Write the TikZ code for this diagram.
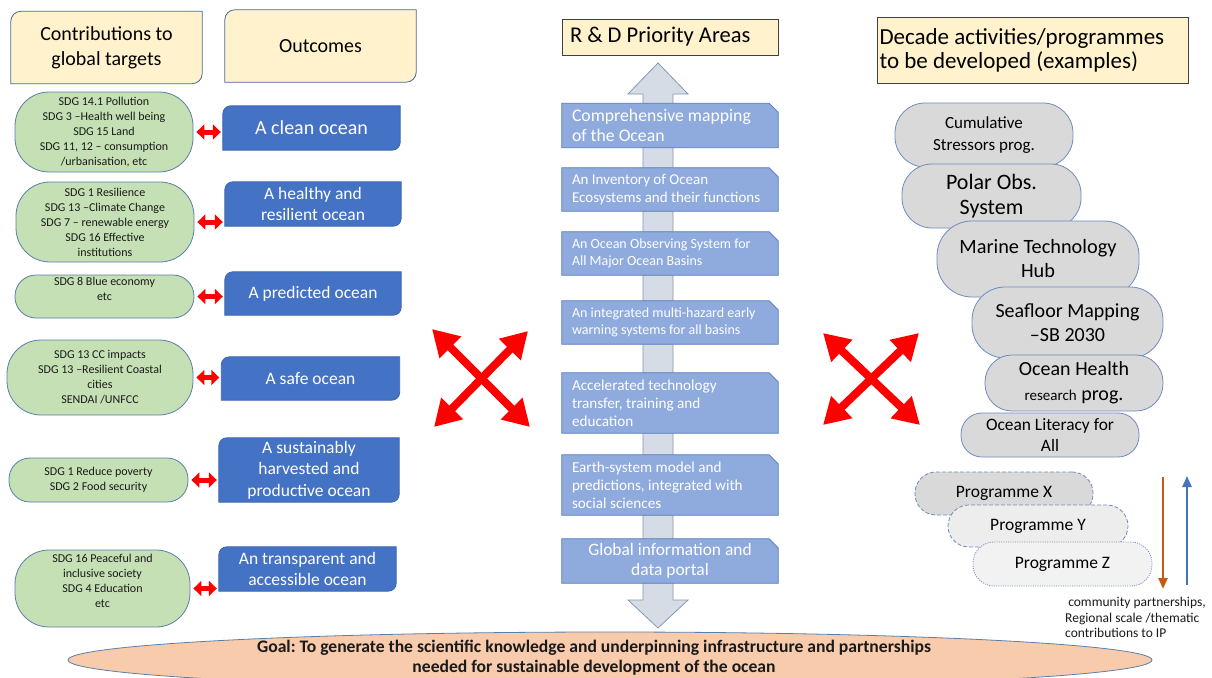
\documentclass[tikz,border=0pt]{standalone}
\usepackage{fontspec}
\setmainfont{Carlito}
\usetikzlibrary{calc,arrows.meta,backgrounds}
\definecolor{hdrfill}{HTML}{FFF2CC}
\definecolor{hdrline}{HTML}{4A6A9A}
\definecolor{bluefill}{HTML}{4472C4}
\definecolor{blueline}{HTML}{3A64B0}
\definecolor{greenfill}{HTML}{C5E0B4}
\definecolor{greenline}{HTML}{5A7FA8}
\definecolor{prifill}{HTML}{8FAADC}
\definecolor{priline}{HTML}{4F78C0}
\definecolor{arrfill}{HTML}{D6DCE5}
\definecolor{arrline}{HTML}{8497B0}
\definecolor{greyfill}{HTML}{D9D9D9}
\definecolor{greyline}{HTML}{6F8BBE}
\definecolor{goalfill}{HTML}{F8CBAD}
\definecolor{orangec}{HTML}{C55A11}
\definecolor{upblue}{HTML}{4472C4}
\definecolor{txtdark}{HTML}{1A1A1A}
\definecolor{redc}{HTML}{FF0000}
\newcommand\drawdiag[3]{\path[#2] ($(#1.north west)+(0pt,-#3)$) arc[start angle=180,end angle=90,radius=#3] -- (#1.north east) -- ($(#1.south east)+(0pt,#3)$) arc[start angle=0,end angle=-90,radius=#3] -- (#1.south west) -- cycle;}
\newcommand\drawsnip[2]{\path[#2] (#1.north west) -- ($(#1.north east)+(-9pt,0pt)$) -- ($(#1.north east)+(0pt,-9pt)$) -- (#1.south east) -- (#1.south west) -- cycle;}
\begin{document}
\begin{tikzpicture}[x=1pt,y=1pt,
  every node/.style={inner sep=0pt, execute at begin node={\frenchspacing\spaceskip=0pt\xspaceskip=0pt\relax}},
  hdr/.style={text=black, align=center},
  hdrshape/.style={fill=hdrfill, draw=hdrline, line width=0.8pt},
  greenbox/.style={draw=greenline, fill=greenfill, line width=0.8pt, align=center, text=txtdark, font=\fontsize{12}{15}\selectfont},
  bluetxt/.style={text=white, align=center},
  blueshape/.style={fill=bluefill, draw=blueline, line width=0.8pt},
  pritxt/.style={text=white, align=left, inner xsep=10pt, text width=196pt},
  prishape/.style={fill=prifill, draw=priline, line width=0.8pt},
  greybox/.style={draw=greyline, fill=greyfill, line width=0.8pt, align=center, text=black},
  progbox/.style={draw=greyline, line width=0.8pt, align=center, text=black, font=\fontsize{17.5}{20}\selectfont, rounded corners=21pt},
  redsm/.style={draw=redc, line width=5pt, {Triangle[length=8pt,width=15pt]}-{Triangle[length=8pt,width=15pt]}, shorten <=3pt, shorten >=2pt},
  bigred/.style={draw=redc, line width=8pt, {Triangle[length=26pt,width=29pt]}-{Triangle[length=26pt,width=29pt]}},
  vert/.style={line width=2.5pt}
]
\useasboundingbox (0,0) rectangle (1212,-677);

% headers
\node[hdr, minimum width=191pt, minimum height=72pt, font=\fontsize{20}{25}\selectfont] (h1) at (106.5,-47.5) {Contributions to\\global targets};
\node[hdr, minimum width=191pt, minimum height=72pt, font=\fontsize{20}{25}\selectfont] (h2) at (320.5,-46) {Outcomes};
\node[draw=black!75, fill=hdrfill, line width=0.8pt, minimum height=36pt, text width=200pt, inner xsep=8pt, align=left, font=\fontsize{22.5}{26}\selectfont] (h3) at (670,-37) {R \& D Priority Areas};
\node[draw=black!75, fill=hdrfill, line width=0.8pt, minimum height=66pt, text width=306pt, inner xsep=2.5pt, align=left, font=\fontsize{23}{24}\selectfont] (h4) at (1032.5,-50) {Decade activities/programmes\\to be developed (examples)};

% contributions (green)
\node[greenbox, minimum width=178pt, minimum height=80pt, rounded corners=34pt] (g1) at (104,-132) {SDG 14.1 Pollution\\SDG 3 --Health well being\\SDG 15 Land\\SDG 11, 12 -- consumption\\/urbanisation, etc};
\node[greenbox, minimum width=178pt, minimum height=80pt, rounded corners=34pt] (g2) at (105,-222) {SDG 1 Resilience\\SDG 13 --Climate Change\\SDG 7 -- renewable energy\\SDG 16 Effective\\institutions};
\node[greenbox, minimum width=179pt, minimum height=43pt, rounded corners=21pt] (g3) at (104.5,-296.5) {SDG 8 Blue economy\\etc\\\mbox{}};
\node[greenbox, minimum width=186pt, minimum height=75pt, rounded corners=34pt] (g4) at (100,-377.5) {SDG 13 CC impacts\\SDG 13 --Resilient Coastal\\cities\\SENDAI /UNFCC};
\node[greenbox, minimum width=179pt, minimum height=44pt, rounded corners=21pt] (g5) at (98.5,-480) {SDG 1 Reduce poverty\\SDG 2 Food security};
\node[greenbox, minimum width=175pt, minimum height=77pt, rounded corners=34pt] (g6) at (102.5,-588.5) {SDG 16 Peaceful and\\inclusive society\\SDG 4 Education\\etc\\\mbox{}};

% outcomes (blue)
\node[bluetxt, minimum width=177pt, minimum height=44pt, font=\fontsize{20}{24}\selectfont] (b1) at (311.5,-128) {A clean ocean};
\node[bluetxt, minimum width=176pt, minimum height=44pt, font=\fontsize{17.5}{21.5}\selectfont] (b2) at (313,-204) {A healthy and\\resilient ocean};
\node[bluetxt, minimum width=176pt, minimum height=43pt, font=\fontsize{17.5}{21.5}\selectfont] (b3) at (313,-293.5) {A predicted ocean};
\node[bluetxt, minimum width=178pt, minimum height=43pt, font=\fontsize{17.5}{21.5}\selectfont] (b4) at (310.5,-378.5) {A safe ocean};
\node[bluetxt, minimum width=180pt, minimum height=64pt, font=\fontsize{17.5}{21.5}\selectfont] (b5) at (309,-470) {A sustainably\\harvested and\\productive ocean};
\node[bluetxt, minimum width=177pt, minimum height=44pt, font=\fontsize{17.5}{21.5}\selectfont] (b6) at (307.5,-569) {An transparent and\\accessible ocean};

% small red arrows
\draw[redsm] (g1.east) -- (g1.east -| b1.west);
\draw[redsm] (g2.east) -- (g2.east -| b2.west);
\draw[redsm] (g3.east) -- (g3.east -| b3.west);
\draw[redsm] (g4.east) -- (g4.east -| b4.west);
\draw[redsm] (g5.east) -- (g5.east -| b5.west);
\draw[redsm] (g6.east) -- (g6.east -| b6.west);

% priority areas
\node[pritxt, minimum height=44pt, font=\fontsize{17.7}{20.7}\selectfont] (c1) at (670,-125.5) {Comprehensive mapping\\of the Ocean};
\node[pritxt, minimum height=43pt, font=\fontsize{15}{17.3}\selectfont] (c2) at (670,-189.5) {An Inventory of Ocean\\Ecosystems and their functions};
\node[pritxt, minimum height=43pt, font=\fontsize{14}{17}\selectfont] (c3) at (670,-253.5) {An Ocean Observing System for\\All Major Ocean Basins};
\node[pritxt, minimum height=43pt, font=\fontsize{14}{17}\selectfont] (c4) at (670,-322.5) {An integrated multi-hazard early\\warning systems for all basins};
\node[pritxt, minimum height=60pt, font=\fontsize{15.2}{18}\selectfont] (c5) at (670,-403) {Accelerated technology\\transfer, training and\\education};
\node[pritxt, minimum height=60pt, font=\fontsize{15.2}{18}\selectfont] (c6) at (670,-485) {Earth-system model and\\predictions, integrated with\\social sciences};
\node[text=white, align=center, minimum width=216pt, minimum height=44pt, font=\fontsize{17.4}{20.5}\selectfont] (c7) at (670,-561) {Global information and\\data portal};

% big red cross arrows
\coordinate (la1) at (432,-329); \coordinate (la2) at (530,-427);
\coordinate (la3) at (528,-331); \coordinate (la4) at (434,-427);
\coordinate (ra1) at (823,-333); \coordinate (ra2) at (920,-425);
\coordinate (ra3) at (919,-333); \coordinate (ra4) at (823,-425);
\draw[bigred] (la1) -- (la2);
\draw[bigred] (la3) -- (la4);
\draw[bigred] (ra1) -- (ra2);
\draw[bigred] (ra3) -- (ra4);

% decade programmes
\node[greybox, minimum width=178pt, minimum height=64pt, rounded corners=30pt, font=\fontsize{17}{22}\selectfont] (r1) at (984,-135) {Cumulative\\Stressors prog.};
\node[greybox, minimum width=179pt, minimum height=64pt, rounded corners=30pt, font=\fontsize{22}{25}\selectfont] (r2) at (991.5,-196) {Polar Obs.\\System};
\node[greybox, minimum width=202pt, minimum height=76pt, rounded corners=35pt, font=\fontsize{20.3}{24}\selectfont] (r3) at (1038,-259) {Marine Technology\\Hub};
\node[greybox, minimum width=191pt, minimum height=71pt, rounded corners=33pt, font=\fontsize{20}{24}\selectfont] (r4) at (1067.5,-322.5) {Seafloor Mapping\\--SB 2030};
\node[greybox, minimum width=178pt, minimum height=56pt, rounded corners=27pt, font=\fontsize{20}{25}\selectfont] (r5) at (1074,-383) {Ocean Health\\{\fontsize{15}{25}\selectfont research} prog.};
\node[greybox, minimum width=178pt, minimum height=44pt, rounded corners=21pt, font=\fontsize{17.4}{21}\selectfont] (r6) at (1050,-435) {Ocean Literacy for\\All};

\node[progbox, fill=greyfill, dash pattern=on 4pt off 2pt, minimum width=178pt, minimum height=43pt] (px) at (1004,-493.5) {Programme X};
\node[progbox, fill=black!7, dash pattern=on 4pt off 2pt, minimum width=180pt, minimum height=42pt] (py) at (1038,-526) {Programme Y};
\node[progbox, fill=black!5, dash pattern=on 1pt off 1.3pt, minimum width=179pt, minimum height=44pt] (pz) at (1062.5,-564) {Programme Z};

\coordinate (oa1) at (1163,-477); \coordinate (oa2) at (1163,-589);
\coordinate (ba1) at (1187,-585); \coordinate (ba2) at (1187,-476);
\draw[vert, draw=orangec, -{Triangle[length=11pt,width=9pt,fill=orangec]}] (oa1) -- (oa2);
\draw[vert, draw=upblue, -{Triangle[length=11pt,width=9pt,fill=upblue]}] (ba1) -- (ba2);

\node[anchor=north west, align=left, text=txtdark, font=\fontsize{13.5}{15.5}\selectfont] (note) at (1065,-597) {\ community partnerships,\\Regional scale /thematic\\contributions to IP};

% goal
\begin{scope}
\clip (0,0) rectangle (1212,-677);
\path[fill=goalfill, draw=greenline, line width=0.8pt] (610,-660) ellipse [x radius=542pt, y radius=28pt];
\end{scope}
\node[align=center, text=txtdark, font=\bfseries\fontsize{17.6}{20}\selectfont] (goal) at (594,-658) {Goal: To generate the scientific knowledge and underpinning infrastructure and partnerships\\needed for sustainable development of the ocean};

% background shapes
\begin{scope}[on background layer]
\draw[fill=arrfill, draw=arrline, line width=0.8pt] (658,-63) -- (688,-94) -- (673,-94) -- (673,-600) -- (688,-600) -- (658,-628) -- (628,-600) -- (643,-600) -- (643,-94) -- (628,-94) -- cycle;
\drawsnip{c1}{prishape}
\drawsnip{c2}{prishape}
\drawsnip{c3}{prishape}
\drawsnip{c4}{prishape}
\drawsnip{c5}{prishape}
\drawsnip{c6}{prishape}
\drawsnip{c7}{prishape}
\drawdiag{h1}{hdrshape}{10pt}
\drawdiag{h2}{hdrshape}{10pt}
\drawdiag{b1}{blueshape}{8pt}
\drawdiag{b2}{blueshape}{8pt}
\drawdiag{b3}{blueshape}{8pt}
\drawdiag{b4}{blueshape}{8pt}
\drawdiag{b5}{blueshape}{8pt}
\drawdiag{b6}{blueshape}{8pt}
\end{scope}
\end{tikzpicture}
\end{document}
